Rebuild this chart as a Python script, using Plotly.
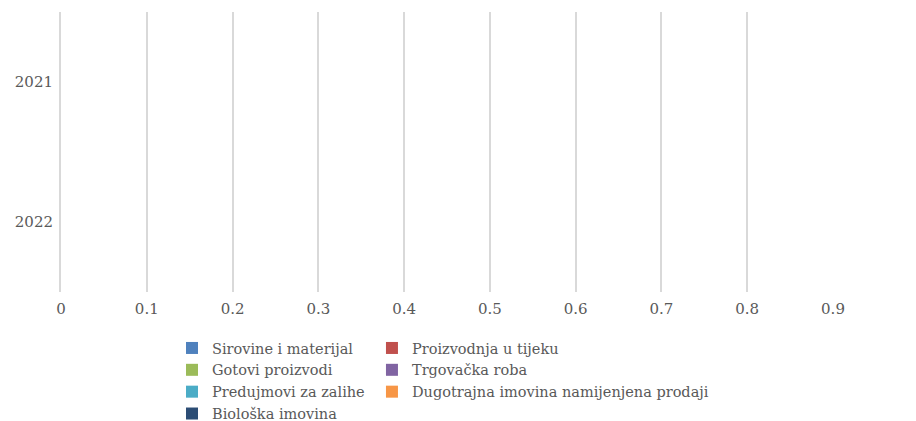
import plotly.graph_objects as go

years = ["2021", "2022"]
series_names = [
    "Sirovine i materijal",
    "Proizvodnja u tijeku",
    "Gotovi proizvodi",
    "Trgovačka roba",
    "Predujmovi za zalihe",
    "Dugotrajna imovina namijenjena prodaji",
    "Biološka imovina",
]
series_values = [
    [0, 0],
    [0, 0],
    [0, 0],
    [0, 0],
    [0, 0],
    [0, 0],
    [0, 0],
]
colors = ["#4F81BD", "#C0504D", "#9BBB59", "#8064A2", "#4BACC6", "#F79646", "#2C4D75"]
x_ticks = [0, 0.1, 0.2, 0.3, 0.4, 0.5, 0.6, 0.7, 0.8, 0.9]

FONT = "DejaVu Serif"
TEXT = "#595959"
GRID = "#D9D9D9"

fig = go.Figure()
for i, (name, vals) in enumerate(zip(series_names, series_values)):
    # left legend column gets the even entries, right column the odd ones
    fig.add_trace(go.Bar(
        y=years,
        x=vals,
        name=name,
        orientation="h",
        marker=dict(color=colors[i], line=dict(width=0)),
        legend="legend" if i % 2 == 0 else "legend2",
    ))

legend_style = dict(
    orientation="v",
    traceorder="normal",
    yanchor="top",
    xanchor="left",
    y=-0.143,
    font=dict(family=FONT, size=14.5, color=TEXT),
    bgcolor="rgba(0,0,0,0)",
)

# the page body adds an 8px margin, so the figure is 8px smaller than the window
fig.update_layout(
    barmode="stack",
    width=908,
    height=413,
    margin=dict(l=53, r=83, t=4, b=129, autoexpand=False),
    paper_bgcolor="white",
    plot_bgcolor="white",
    font=dict(family=FONT, size=15, color=TEXT),
    legend=dict(x=0.1438, **legend_style),
    legend2=dict(x=0.4028, **legend_style),
    xaxis=dict(
        range=[0, 0.9],
        tickvals=x_ticks,
        ticktext=[str(v) for v in x_ticks],
        showgrid=True,
        gridcolor=GRID,
        gridwidth=2,
        zeroline=False,
        showline=False,
        ticks="",
        automargin=False,
        ticklabelstandoff=6,
        tickfont=dict(family=FONT, size=15, color=TEXT),
    ),
    yaxis=dict(
        type="category",
        categoryorder="array",
        categoryarray=years,
        autorange="reversed",
        showgrid=False,
        zeroline=False,
        showline=True,
        linecolor=GRID,
        linewidth=2,
        ticks="",
        automargin=False,
        ticklabelstandoff=3,
        tickfont=dict(family=FONT, size=15, color=TEXT),
    ),
)

fig.write_html("out.html")
